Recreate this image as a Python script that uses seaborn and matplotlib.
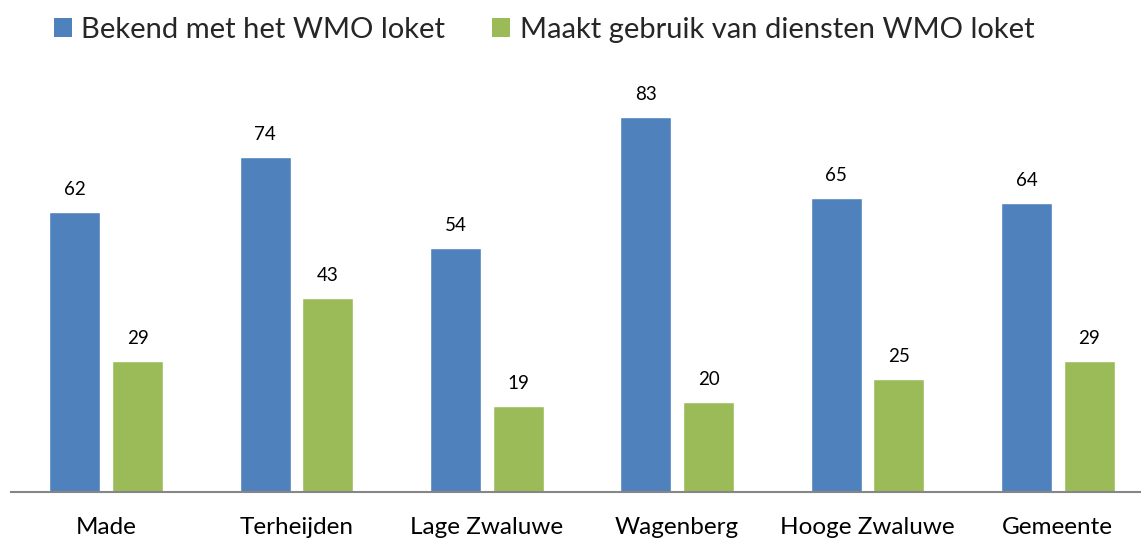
import matplotlib
matplotlib.use("Agg")
import matplotlib.pyplot as plt
from matplotlib.patches import Patch
import seaborn as sns
import pandas as pd

# Data
kernen = ["Made", "Terheijden", "Lage Zwaluwe", "Wagenberg", "Hooge Zwaluwe", "Gemeente"]
bekend = [62, 74, 54, 83, 65, 64]
gebruik = [29, 43, 19, 20, 25, 29]
reeksen = ["Bekend met het WMO loket", "Maakt gebruik van diensten WMO loket"]
kleuren = ["#4F81BD", "#9BBB59"]

df = pd.DataFrame({
    "kern": kernen * 2,
    "waarde": bekend + gebruik,
    "reeks": [reeksen[0]] * len(kernen) + [reeksen[1]] * len(kernen),
})

sns.set_theme(style="white")
plt.rcParams["font.family"] = ["Lato", "DejaVu Sans"]

fig = plt.figure(figsize=(11.41, 5.40), dpi=100)
ax = fig.add_axes([11 / 1141, 48 / 540, 1142 / 1141, 407 / 540])

sns.barplot(data=df, x="kern", y="waarde", hue="reeks", hue_order=reeksen,
            order=kernen, palette=kleuren, width=0.66, gap=0.19,
            saturation=1, ax=ax, legend=False)

for cont in ax.containers:
    ax.bar_label(cont, fmt="%d", padding=10, fontsize=13.5, color="#000000")

ax.set_ylim(0, 90)
ax.set_xlim(-0.5, 5.5)
ax.set_xlabel("")
ax.set_ylabel("")
ax.set_yticks([])
ax.tick_params(axis="x", length=0, pad=18, labelsize=17.5, labelcolor="#000000")
for s in ["top", "left", "right"]:
    ax.spines[s].set_visible(False)
ax.spines["bottom"].set_color("#868686")
ax.spines["bottom"].set_linewidth(1.5)

handles = [Patch(facecolor=c, edgecolor="none") for c in kleuren]
fig.legend(handles, reeksen, loc="center left",
           bbox_to_anchor=(54 / 1141, 1 - 30 / 540), ncol=2, frameon=False,
           fontsize=21, handlelength=0.62, handleheight=0.62,
           handletextpad=0.31, columnspacing=1.62, borderpad=0, borderaxespad=0)

fig.savefig("out.png", dpi=100)
